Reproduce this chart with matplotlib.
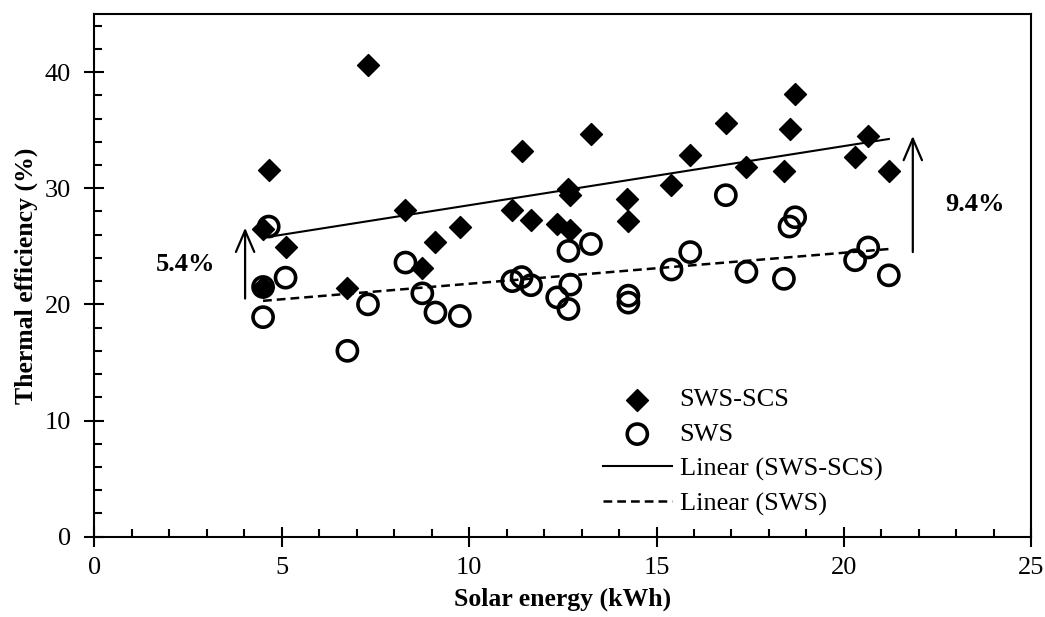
import numpy as np
import matplotlib
matplotlib.use("Agg")
import matplotlib.pyplot as plt
from matplotlib.ticker import MultipleLocator

plt.rcParams['font.family'] = ['Liberation Serif', 'DejaVu Serif']
plt.rcParams['mathtext.fontset'] = 'stix'

# SWS-SCS data (solar energy kWh, thermal efficiency %)
sws_scs_x = [4.5, 4.65, 5.1, 4.5, 6.75, 7.3, 8.3, 8.75, 9.1, 9.75, 11.15, 11.4, 11.65,
             12.35, 12.65, 12.7, 12.7, 13.25, 14.2, 14.25, 15.4, 15.9, 16.85, 17.4,
             18.4, 18.55, 18.7, 20.3, 20.65, 21.2]
sws_scs_y = [26.5, 31.6, 24.9, 21.5, 21.4, 40.6, 28.1, 23.1, 25.4, 26.7, 28.1, 33.2, 27.3,
             26.9, 29.9, 29.4, 26.4, 34.7, 29.1, 27.2, 30.3, 32.9, 35.6, 31.8,
             31.5, 35.1, 38.1, 32.7, 34.5, 31.5]

# SWS data
sws_x = [4.5, 4.5, 4.65, 5.1, 6.75, 7.3, 8.3, 8.75, 9.1, 9.75, 11.15, 11.4, 11.65,
         12.35, 12.65, 12.7, 12.65, 13.25, 14.25, 14.25, 15.4, 15.9, 16.85, 17.4,
         18.4, 18.55, 18.7, 20.3, 20.65, 21.2]
sws_y = [21.5, 18.9, 26.7, 22.3, 16.0, 20.0, 23.6, 20.95, 19.3, 19.0, 22.0, 22.35, 21.65,
         20.6, 19.6, 21.7, 24.6, 25.2, 20.75, 20.15, 23.0, 24.5, 29.4, 22.8,
         22.2, 26.7, 27.5, 23.8, 24.9, 22.5]

labels = ["SWS-SCS", "SWS", "Linear (SWS-SCS)", "Linear (SWS)"]
gain_labels = ["5.4%", "9.4%"]

fig = plt.figure(figsize=(10.45, 6.17), dpi=100)
ax = fig.add_axes([0.0904, 0.1302, 0.8964, 0.8471])

ax.scatter(sws_scs_x, sws_scs_y, marker='D', s=125, color='black', zorder=3,
           label=labels[0])
ax.scatter(sws_x, sws_y, marker='o', s=210, facecolor='none', edgecolor='black',
           linewidths=2.6, zorder=3, label=labels[1])

# linear trendlines
xs1 = np.array(sws_scs_x); ys1 = np.array(sws_scs_y)
xs2 = np.array(sws_x); ys2 = np.array(sws_y)
p1 = np.polyfit(xs1, ys1, 1)
p2 = np.polyfit(xs2, ys2, 1)
xl1 = np.array([xs1.min(), xs1.max()])
xl2 = np.array([xs2.min(), xs2.max()])
ax.plot(xl1, np.polyval(p1, xl1), color='black', lw=1.5, label=labels[2], zorder=2)
ax.plot(xl2, np.polyval(p2, xl2), color='black', lw=1.8, ls=(0, (3.5, 2)),
        label=labels[3], zorder=2)

# arrows and annotations
arrow_kw = dict(arrowstyle='->,head_length=0.7,head_width=0.3', lw=1.6, color='black',
                mutation_scale=22, shrinkA=0, shrinkB=0)
ax.annotate('', xy=(4.02, 26.6), xytext=(4.02, 20.5), arrowprops=arrow_kw)
ax.annotate('', xy=(21.84, 34.5), xytext=(21.84, 24.5), arrowprops=arrow_kw)
ax.text(2.42, 23.4, gain_labels[0], fontsize=19, fontweight='bold', ha='center', va='center')
ax.text(23.5, 28.6, gain_labels[1], fontsize=19, fontweight='bold', ha='center', va='center')

ax.set_xlim(0, 25)
ax.set_ylim(0, 45)
ax.xaxis.set_major_locator(MultipleLocator(5))
ax.xaxis.set_minor_locator(MultipleLocator(1))
ax.yaxis.set_major_locator(MultipleLocator(10))
ax.yaxis.set_minor_locator(MultipleLocator(2))
ax.tick_params(which='major', direction='inout', length=14, width=1.5, labelsize=19)
ax.tick_params(axis='x', which='major', pad=8)
ax.tick_params(axis='y', which='major', pad=10)
ax.tick_params(which='minor', direction='in', length=6, width=1.5)
for s in ax.spines.values():
    s.set_linewidth(1.5)

ax.set_xlabel('Solar energy (kWh)', fontsize=18.5, fontweight='bold', labelpad=6)
ax.set_ylabel('Thermal efficiency (%)', fontsize=18.5, fontweight='bold', labelpad=5)

leg = ax.legend(loc='upper left', bbox_to_anchor=(603 / 1045, 1 - 388 / 617),
                bbox_transform=fig.transFigure, frameon=False, fontsize=19,
                handlelength=2.6, handletextpad=0.3, labelspacing=0.42,
                borderpad=0.0, borderaxespad=0.0)

fig.savefig('out.png', dpi=100)
